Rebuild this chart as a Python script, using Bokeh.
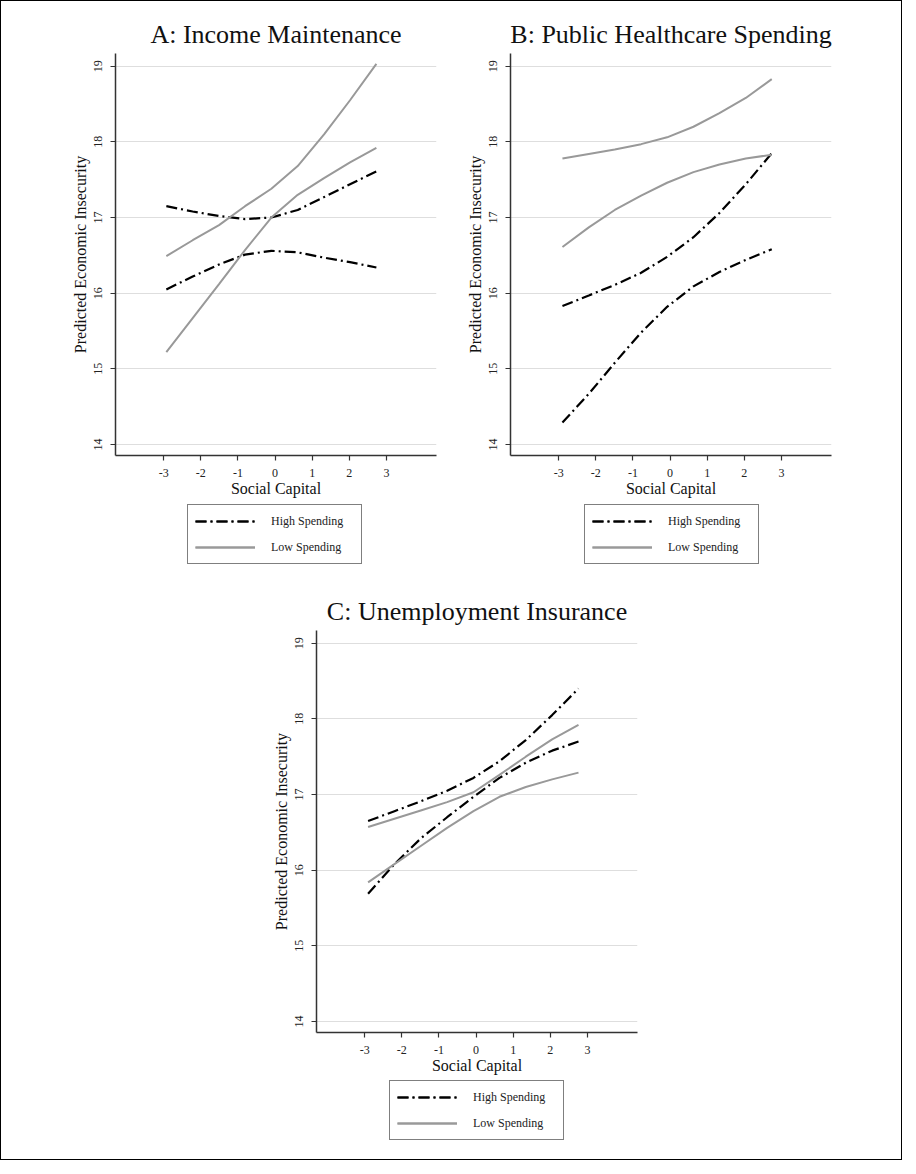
from bokeh.plotting import figure
from bokeh.models import Legend, LegendItem, FixedTicker, Range1d
from bokeh.layouts import column, row
from bokeh.embed import file_html
from bokeh.resources import INLINE

# ---------------- data ----------------
x_ticks = [-3, -2, -1, 0, 1, 2, 3]
x_tick_labels = ["-3", "-2", "-1", "0", "1", "2", "3"]
y_ticks = [14, 15, 16, 17, 18, 19]
y_tick_labels = ["14", "15", "16", "17", "18", "19"]
legend_labels = ["High Spending", "Low Spending"]

# Panel A: Income Maintenance
a_x = [-2.93, -2.22, -1.51, -0.81, -0.10, 0.61, 1.32, 2.02, 2.73]
a_high_upper = [17.15, 17.08, 17.02, 16.98, 17.00, 17.10, 17.27, 17.44, 17.61]
a_high_lower = [16.05, 16.22, 16.38, 16.51, 16.56, 16.54, 16.47, 16.41, 16.34]
a_low_upper = [16.49, 16.70, 16.90, 17.15, 17.38, 17.68, 18.10, 18.55, 19.03]
a_low_lower = [15.22, 15.67, 16.12, 16.57, 17.00, 17.30, 17.52, 17.73, 17.92]

# Panel B: Public Healthcare Spending
b_x = [-2.90, -2.19, -1.49, -0.78, -0.08, 0.63, 1.33, 2.04, 2.74]
b_high_upper = [15.83, 15.97, 16.11, 16.27, 16.48, 16.74, 17.06, 17.44, 17.85]
b_high_lower = [14.29, 14.67, 15.08, 15.48, 15.82, 16.09, 16.28, 16.44, 16.58]
b_low_upper = [17.78, 17.84, 17.90, 17.97, 18.06, 18.20, 18.38, 18.58, 18.83]
b_low_lower = [16.61, 16.87, 17.10, 17.29, 17.46, 17.60, 17.70, 17.78, 17.83]

# Panel C: Unemployment Insurance
c_x = [-2.91, -2.20, -1.49, -0.78, -0.07, 0.63, 1.34, 2.05, 2.76]
c_high_upper = [16.65, 16.78, 16.91, 17.05, 17.22, 17.44, 17.72, 18.05, 18.40]
c_high_lower = [15.69, 16.08, 16.42, 16.70, 16.97, 17.22, 17.42, 17.58, 17.70]
c_low_upper = [16.57, 16.68, 16.79, 16.90, 17.03, 17.26, 17.50, 17.73, 17.92]
c_low_lower = [15.84, 16.08, 16.32, 16.56, 16.78, 16.97, 17.10, 17.20, 17.29]

SERIF = "Liberation Serif"
HIGH_COLOR = "#000000"
LOW_COLOR = "#999999"
HIGH_DASH = "11 4 2 4"
X_RANGE = (-4.3, 4.35)
Y_RANGE = (13.855, 19.168)


def add_series(p, xs, hu, hl, lu, ll):
    r_hu = p.line(xs, hu, line_color=HIGH_COLOR, line_width=2.2, line_dash=HIGH_DASH)
    r_hl = p.line(xs, hl, line_color=HIGH_COLOR, line_width=2.2, line_dash=HIGH_DASH)
    r_lu = p.line(xs, lu, line_color=LOW_COLOR, line_width=2)
    r_ll = p.line(xs, ll, line_color=LOW_COLOR, line_width=2)
    return r_hu, r_hl, r_lu, r_ll


def make_panel(title, xs, hu, hl, lu, ll, width, height, bl, bt, fw, fh):
    p = figure(width=width, height=height, output_backend="svg", toolbar_location=None,
               x_range=Range1d(*X_RANGE), y_range=Range1d(*Y_RANGE),
               title=title)
    p.min_border_left = bl
    p.min_border_top = bt
    p.min_border_right = width - bl - fw
    p.min_border_bottom = height - bt - fh
    p.outline_line_color = None
    p.background_fill_color = "white"
    p.border_fill_color = "white"

    p.title.text_font = SERIF
    p.title.text_font_size = "26px"
    p.title.text_font_style = "normal"
    p.title.text_color = "#111111"
    p.title.align = "center"
    p.title.standoff = 9

    for ax in (p.xaxis, p.yaxis):
        ax.axis_line_color = "#333333"
        ax.axis_line_width = 1.5
        ax.major_tick_line_color = "#333333"
        ax.major_tick_line_width = 1.2
        ax.major_tick_out = 5
        ax.major_tick_in = 0
        ax.minor_tick_line_color = None
        ax.major_label_text_font = SERIF
        ax.major_label_text_font_size = "12px"
        ax.major_label_text_color = "#222222"
        ax.axis_label_text_font = SERIF
        ax.axis_label_text_font_style = "normal"
        ax.axis_label_text_color = "#111111"
        ax.axis_label_text_font_size = "16px"

    p.xaxis.ticker = FixedTicker(ticks=x_ticks)
    p.yaxis.ticker = FixedTicker(ticks=y_ticks)
    p.xaxis.major_label_overrides = dict(zip(x_ticks, x_tick_labels))
    p.yaxis.major_label_overrides = dict(zip(y_ticks, y_tick_labels))
    p.xaxis.axis_label = "Social Capital"
    p.yaxis.axis_label = "Predicted Economic Insecurity"
    p.xaxis.major_label_standoff = 8
    p.yaxis.major_label_standoff = 8
    p.xaxis.axis_label_standoff = 0
    p.yaxis.axis_label_standoff = 3
    p.yaxis.major_label_orientation = "vertical"

    p.xgrid.grid_line_color = None
    p.ygrid.grid_line_color = "#dedede"
    p.ygrid.grid_line_width = 1.2

    add_series(p, xs, hu, hl, lu, ll)
    return p


def make_legend_fig(xs, hu, hl, lu, ll, width, height, lx, ly):
    # legend-only strip below a panel (its frame is aligned with the panel's
    # frame by the layout); its series are outside this strip's y view
    q = figure(width=width, height=height, output_backend="svg", toolbar_location=None,
               x_range=Range1d(*X_RANGE), y_range=Range1d(0, 1),
               x_axis_location=None, y_axis_location=None)
    q.min_border_left = 0
    q.min_border_right = 0
    q.min_border_top = 0
    q.min_border_bottom = 0
    q.outline_line_color = None
    q.grid.grid_line_color = None
    q.background_fill_color = "white"
    q.border_fill_color = "white"
    r_hu, r_hl, r_lu, r_ll = add_series(q, xs, hu, hl, lu, ll)
    legend = Legend(items=[LegendItem(label=legend_labels[0], renderers=[r_hu, r_hl]),
                           LegendItem(label=legend_labels[1], renderers=[r_lu, r_ll])],
                    location=(lx, ly))
    legend.border_line_color = "#000000"
    legend.border_line_width = 1.2
    legend.background_fill_color = "white"
    legend.background_fill_alpha = 1
    legend.label_text_font = SERIF
    legend.label_text_font_size = "12px"
    legend.label_text_color = "#222222"
    legend.glyph_width = 60
    legend.glyph_height = 18
    legend.label_height = 18
    legend.label_width = 83
    legend.label_standoff = 16
    legend.spacing = 8
    legend.padding = 7
    legend.margin = 0
    q.add_layout(legend, "center")
    return q


pA = make_panel("A: Income Maintenance", a_x, a_high_upper, a_high_lower, a_low_upper, a_low_lower,
                width=462, height=502, bl=114, bt=52, fw=321, fh=402)
lA = make_legend_fig(a_x, a_high_upper, a_high_lower, a_low_upper, a_low_lower,
                     width=462, height=80, lx=72, ly=19)
pB = make_panel("B: Public Healthcare Spending", b_x, b_high_upper, b_high_lower, b_low_upper, b_low_lower,
                width=438, height=502, bl=47, bt=52, fw=321, fh=402)
lB = make_legend_fig(b_x, b_high_upper, b_high_lower, b_low_upper, b_low_lower,
                     width=438, height=80, lx=74, ly=19)
pC = make_panel("C: Unemployment Insurance", c_x, c_high_upper, c_high_lower, c_low_upper, c_low_lower,
                width=900, height=497, bl=315, bt=47, fw=321, fh=402)
lC = make_legend_fig(c_x, c_high_upper, c_high_lower, c_low_upper, c_low_lower,
                     width=900, height=79, lx=73, ly=19)

layout = column(row(column(pA, lA), column(pB, lB)), pC, lC,
                styles={"border": "1px solid #000000"})

with open("out.html", "w") as f:
    f.write(file_html(layout, INLINE))
